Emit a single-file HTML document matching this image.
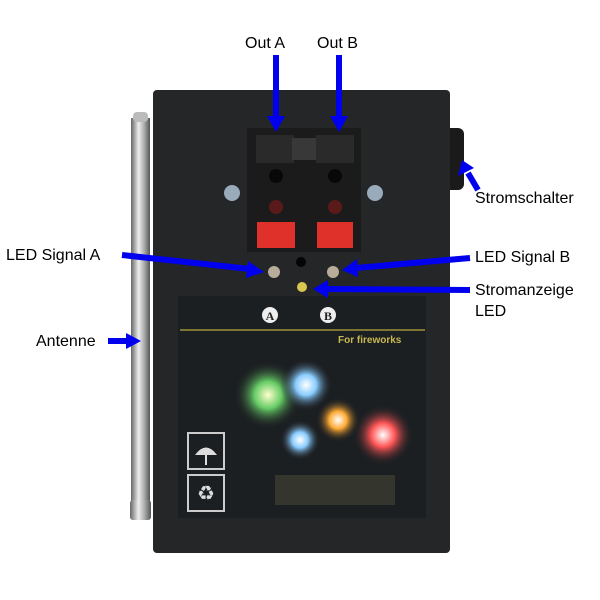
<!DOCTYPE html>
<html><head><style>body{margin:0;background:#fff}svg{display:block}</style></head><body>
<svg width="600" height="600" viewBox="0 0 600 600" xmlns="http://www.w3.org/2000/svg" font-family="Liberation Sans, sans-serif">
<defs>
<linearGradient id="ant" x1="0" x2="1"><stop offset="0" stop-color="#666"/><stop offset=".4" stop-color="#eee"/><stop offset=".7" stop-color="#aaa"/><stop offset="1" stop-color="#555"/></linearGradient>
<radialGradient id="fw1"><stop offset="0" stop-color="#fff"/><stop offset=".4" stop-color="#8cf"/><stop offset="1" stop-color="#1c1f22" stop-opacity="0"/></radialGradient>
<radialGradient id="fw2"><stop offset="0" stop-color="#fff"/><stop offset=".4" stop-color="#f55"/><stop offset="1" stop-color="#1c1f22" stop-opacity="0"/></radialGradient>
<radialGradient id="fw3"><stop offset="0" stop-color="#ffc"/><stop offset=".4" stop-color="#6c6"/><stop offset="1" stop-color="#1c1f22" stop-opacity="0"/></radialGradient>
<radialGradient id="fw4"><stop offset="0" stop-color="#fff"/><stop offset=".4" stop-color="#fa3"/><stop offset="1" stop-color="#1c1f22" stop-opacity="0"/></radialGradient>
</defs>
<!-- switch -->
<rect x="444" y="128" width="20" height="62" rx="6" fill="#1a1a1a"/>
<!-- box -->
<rect x="153" y="90" width="297" height="463" rx="4" fill="#242628"/>
<rect x="178" y="296" width="248" height="222" fill="#1c1f22"/>
<!-- terminal -->
<rect x="247" y="128" width="114" height="124" fill="#1b1b1b"/>
<rect x="256" y="135" width="38" height="28" fill="#2a2a2a"/>
<rect x="316" y="135" width="38" height="28" fill="#2a2a2a"/>
<rect x="292" y="138" width="24" height="22" fill="#383838"/>
<circle cx="276" cy="176" r="7" fill="#080808"/><circle cx="335" cy="176" r="7" fill="#080808"/>
<circle cx="276" cy="207" r="7" fill="#5a1a1a"/><circle cx="335" cy="207" r="7" fill="#5a1a1a"/>
<rect x="257" y="222" width="38" height="26" fill="#e0302a"/>
<rect x="317" y="222" width="36" height="26" fill="#e0302a"/>
<!-- screws -->
<circle cx="232" cy="193" r="8" fill="#9ab"/><circle cx="375" cy="193" r="8" fill="#9ab"/>
<!-- leds -->
<circle cx="274" cy="272" r="6" fill="#b8ad9a"/><circle cx="333" cy="272" r="6" fill="#b8ad9a"/>
<circle cx="301" cy="262" r="5" fill="#050505"/><circle cx="302" cy="287" r="5" fill="#d8c850"/>
<!-- A B -->
<circle cx="270" cy="315" r="8" fill="#eee"/><text x="270" y="320" font-size="12" font-weight="bold" text-anchor="middle" font-family="Liberation Serif, serif" fill="#222">A</text>
<circle cx="328" cy="315" r="8" fill="#eee"/><text x="328" y="320" font-size="12" font-weight="bold" text-anchor="middle" font-family="Liberation Serif, serif" fill="#222">B</text>
<line x1="180" y1="330" x2="425" y2="330" stroke="#b8a840" stroke-width="1.2"/>
<text x="338" y="343" font-size="10" font-weight="bold" fill="#c8b850">For fireworks</text>
<!-- fireworks -->
<circle cx="268" cy="395" r="34" fill="url(#fw3)"/>
<circle cx="306" cy="385" r="26" fill="url(#fw1)"/>
<circle cx="383" cy="435" r="30" fill="url(#fw2)"/>
<circle cx="338" cy="420" r="22" fill="url(#fw4)"/>
<circle cx="300" cy="440" r="20" fill="url(#fw1)"/>
<rect x="275" y="475" width="120" height="30" fill="#443" opacity=".6"/>
<!-- icons -->
<rect x="188" y="433" width="36" height="36" fill="none" stroke="#ccc" stroke-width="2"/>
<rect x="188" y="475" width="36" height="36" fill="none" stroke="#ccc" stroke-width="2"/>
<path d="M195 455 Q206 440 217 455 Z" fill="#ddd"/><line x1="206" y1="455" x2="206" y2="465" stroke="#ddd" stroke-width="2"/>
<text x="206" y="500" font-size="20" fill="#ddd" text-anchor="middle">♻</text>
<!-- antenna -->
<rect x="131" y="118" width="19" height="395" fill="url(#ant)"/>
<rect x="133" y="112" width="15" height="10" rx="4" fill="#bbb"/>
<rect x="130" y="500" width="21" height="20" rx="3" fill="url(#ant)"/>
<!-- arrows -->
<g stroke="#0000ee" stroke-width="6" fill="#0000ee">
<line x1="276" y1="55" x2="276" y2="118"/><polygon points="267,116 285,116 276,132" stroke="none"/>
<line x1="339" y1="55" x2="339" y2="118"/><polygon points="330,116 348,116 339,132" stroke="none"/>
<line x1="478" y1="190" x2="468" y2="173"/><polygon points="458,176 474,168 462,160" stroke="none"/>
<line x1="122" y1="255" x2="250" y2="269"/><polygon points="248,261 246,278 264,272" stroke="none"/>
<line x1="470" y1="258" x2="356" y2="268"/><polygon points="357,259 358,277 342,270" stroke="none"/>
<line x1="470" y1="290" x2="326" y2="289"/><polygon points="328,280 328,298 313,289" stroke="none"/>
<line x1="108" y1="341" x2="128" y2="341"/><polygon points="126,333 126,349 141,341" stroke="none"/>
</g>
<g font-size="16" fill="#000">
<text x="245" y="48">Out A</text>
<text x="317" y="48">Out B</text>
<text x="475" y="203">Stromschalter</text>
<text x="6" y="260">LED Signal A</text>
<text x="475" y="262">LED Signal B</text>
<text x="475" y="295">Stromanzeige</text>
<text x="475" y="316">LED</text>
<text x="36" y="346">Antenne</text>
</g>
</svg>
</body></html>
